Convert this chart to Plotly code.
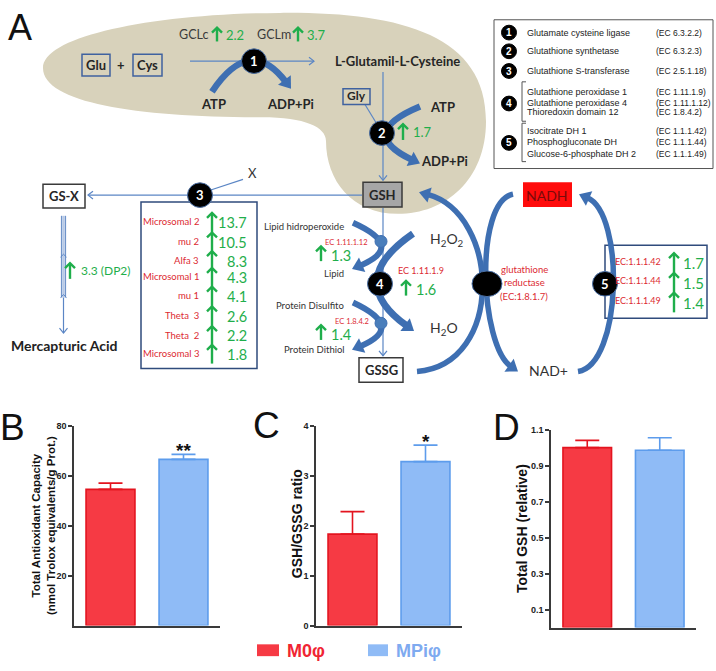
import math
import plotly.graph_objects as go

# ---------------- data ----------------
groups = ["M0φ", "MPiφ"]
tac_mean = [54.5, 66.5]
tac_sem = [2.5, 2.0]
ratio_mean = [1.83, 3.28]
ratio_sem = [0.45, 0.33]
gsh_mean = [1.0, 0.985]
gsh_sem = [0.04, 0.07]
sig_marks = ["", "**", "", "*", "", ""]
tac_ticks = [20, 40, 60, 80]
ratio_ticks = [0, 1, 2, 3, 4]
gsh_ticks = [0.1, 0.3, 0.5, 0.7, 0.9, 1.1]

gcl_names = ["GCLc", "GCLm"]
gcl_fold = [2.2, 3.7]
gss_fold = 1.7
gst_names = ["Microsomal 2", "mu 2", "Alfa 3", "Microsomal 1", "mu 1", "Theta  3", "Theta  2", "Microsomal 3"]
gst_fold = [13.7, 10.5, 8.3, 4.3, 4.1, 2.6, 2.2, 1.8]
dp2_fold = 3.3
gpx_ec = ["EC 1.11.1.12", "EC 1.11.1.9", "EC 1.8.4.2"]
gpx_fold = [1.3, 1.6, 1.4]
nadh_ec = ["EC:1.1.1.42", "EC:1.1.1.44", "EC:1.1.1.49"]
nadh_fold = [1.7, 1.5, 1.4]
enz_num = [1, 2, 3, 4, 4, 4, 5, 5, 5]
enz_names = ["Glutamate cysteine ligase", "Glutathione synthetase", "Glutathione S-transferase",
             "Glutathione peroxidase 1", "Glutathione peroxidase 4", "Thioredoxin domain 12",
             "Isocitrate DH 1", "Phosphogluconate DH", "Glucose-6-phosphate DH 2"]
enz_ec = ["(EC 6.3.2.2)", "(EC 6.3.2.3)", "(EC 2.5.1.18)", "(EC 1.11.1.9)", "(EC 1.11.1.12)",
          "(EC 1.8.4.2)", "(EC 1.1.1.42)", "(EC 1.1.1.44)", "(EC 1.1.1.49)"]

# ---------------- styles ----------------
W, H = 716, 671
RED_F, RED_L = "#f63a44", "#e3141f"
BLU_F, BLU_L = "#8fbbf6", "#5d9cec"
AXC = "#3a3a3a"
BLUE_T = "#5b86c5"
BLUE_K = "#3e6fb2"
BOXB = "#3f62a0"
GREEN = "#1fae4b"
RED = "#dc2a32"
DARK = "#262626"
F_D = "Lato"
F_A = "Liberation Sans"


def fx(p):
    return p / W


def fy(p):
    return 1 - p / H


fig = go.Figure()

# ---------------- bar panels ----------------
fills = [RED_F, BLU_F]
edges = [RED_L, BLU_L]
panels = [("x", "y", tac_mean, tac_sem), ("x2", "y2", ratio_mean, ratio_sem), ("x3", "y3", gsh_mean, gsh_sem)]
k = 0
for xa, ya, means, sems in panels:
    for i, g in enumerate(groups):
        fig.add_trace(go.Bar(
            x=[g], y=[means[i]], width=0.67, xaxis=xa, yaxis=ya,
            marker=dict(color=fills[i], line=dict(color=edges[i], width=1.6)),
            error_y=dict(type="data", symmetric=False, array=[sems[i]], arrayminus=[0],
                         color=edges[i], thickness=1.6, width=12),
            showlegend=False, hoverinfo="skip"))
        if sig_marks[k]:
            fig.add_annotation(x=g, y=means[i] + sems[i], xref=xa, yref=ya, text="<b>%s</b>" % sig_marks[k],
                               showarrow=False, yanchor="bottom", yshift=-9,
                               font=dict(size=19, color="#111", family=F_A))
        k += 1

fig.add_trace(go.Scatter(x=[], y=[], xaxis="x4", yaxis="y4", showlegend=False, hoverinfo="skip"))


def yax(dom, rng, ticks, fmt):
    return dict(domain=dom, range=rng, showline=True, linecolor=AXC, linewidth=1.5,
                ticks="outside", ticklen=4, tickwidth=1.5, tickcolor=AXC,
                tickvals=ticks, ticktext=["<b>%s</b>" % (fmt % t) for t in ticks],
                tickfont=dict(size=9, color="#222", family=F_A),
                showgrid=False, zeroline=False, fixedrange=True)


def xax(dom, anchor):
    return dict(domain=dom, anchor=anchor, range=[-0.5, 1.5], type="category",
                categoryorder="array", categoryarray=groups,
                showline=True, linecolor=AXC, linewidth=1.5, ticks="",
                showticklabels=False, showgrid=False, zeroline=False, fixedrange=True)


fig.update_layout(
    width=W, height=H, margin=dict(l=0, r=0, t=0, b=0),
    paper_bgcolor="white", plot_bgcolor="rgba(0,0,0,0)", barmode="overlay",
    xaxis=xax([fx(74), fx(220)], "y"),
    yaxis=dict(yax([fy(630), fy(427)], [0, 80], tac_ticks, "%d"), anchor="x"),
    xaxis2=xax([fx(316), fx(462)], "y2"),
    yaxis2=dict(yax([fy(630), fy(427)], [0, 4], ratio_ticks, "%d"), anchor="x2"),
    xaxis3=xax([fx(551), fx(696)], "y3"),
    yaxis3=dict(yax([fy(632), fy(431)], [0, 1.1], gsh_ticks, "%.1f"), anchor="x3"),
    xaxis4=dict(domain=[0, 1], range=[0, W], visible=False, anchor="y4", fixedrange=True),
    yaxis4=dict(domain=[0, 1], range=[H, 0], visible=False, anchor="x4", fixedrange=True),
)

# ---------------- diagram helpers ----------------
shapes = []
annots = []
R = dict(xref="x4", yref="y4")


def ln(x0, y0, x1, y1, color=BLUE_T, w=1.2):
    shapes.append(dict(type="line", x0=x0, y0=y0, x1=x1, y1=y1, line=dict(color=color, width=w), **R))


def pth(d, color=None, w=1.0, fill=None):
    s = dict(type="path", path=d, **R)
    s["line"] = dict(color=color, width=w) if color else dict(width=0)
    if fill:
        s["fillcolor"] = fill
    shapes.append(s)


def box(x0, y0, x1, y1, fill=None, lc=DARK, w=1.5):
    shapes.append(dict(type="rect", x0=x0, y0=y0, x1=x1, y1=y1,
                       fillcolor=fill or "rgba(0,0,0,0)",
                       line=dict(color=lc, width=w) if lc else dict(width=0), **R))


def circ(cx, cy, rx, ry=None, fill="black", lc="#4a6fa5", w=1):
    ry = ry or rx
    shapes.append(dict(type="circle", x0=cx - rx, x1=cx + rx, y0=cy - ry, y1=cy + ry,
                       fillcolor=fill, line=dict(color=lc, width=w), **R))


def txt(x, y, s, size=12, color=DARK, xa="center", fam=F_D, angle=0, ya="middle"):
    annots.append(dict(x=x, y=y, text=s, showarrow=False, xanchor=xa, yanchor=ya,
                       textangle=angle, font=dict(size=size, color=color, family=fam), **R))


def thin_arrow(x0, y0, x1, y1, color=BLUE_T, h=5, w=1.2):
    ln(x0, y0, x1, y1, color, w)
    L = math.hypot(x1 - x0, y1 - y0)
    ux, uy = (x1 - x0) / L, (y1 - y0) / L
    nx, ny = -uy, ux
    ax_, ay_ = x1 - ux * h + nx * h * 0.8, y1 - uy * h + ny * h * 0.8
    bx_, by_ = x1 - ux * h - nx * h * 0.8, y1 - uy * h - ny * h * 0.8
    pth("M%.1f,%.1f L%.1f,%.1f L%.1f,%.1f" % (ax_, ay_, x1, y1, bx_, by_), color, w)


def thick(pts, w=6.5, color=BLUE_K, hl=11, hw=8):
    pe, pc = pts[-1], pts[-2]
    dx, dy = pe[0] - pc[0], pe[1] - pc[1]
    L = math.hypot(dx, dy)
    ux, uy = dx / L, dy / L
    nx, ny = -uy, ux
    base = (pe[0] - ux * hl * 0.8, pe[1] - uy * hl * 0.8)
    p = pts[:-1] + [base]
    cmd = "Q" if len(pts) == 3 else "C"
    d = "M%.1f,%.1f %s" % (p[0][0], p[0][1], cmd) + " ".join("%.1f,%.1f" % q for q in p[1:])
    pth(d, color, w)
    b0 = (pe[0] - ux * hl, pe[1] - uy * hl)
    tri = "M%.1f,%.1f L%.1f,%.1f L%.1f,%.1f Z" % (pe[0], pe[1], b0[0] + nx * hw, b0[1] + ny * hw,
                                                  b0[0] - nx * hw, b0[1] - ny * hw)
    pth(tri, None, 0, color)


def chev(x, y, h=5, w=2.4, color=GREEN):
    pth("M%.1f,%.1f L%.1f,%.1f L%.1f,%.1f" % (x - h, y + h, x, y, x + h, y + h), color, w)


def up(x, ytop, ybot, w=2.4):
    ln(x, ybot, x, ytop + 1, GREEN, w)
    chev(x, ytop, w=w)


# ---------------- panel A ----------------
# beige region
pth("M43,64 C43,32 150,9 280,8 C400,7 486,30 486,118 C486,178 445,212 398,212 "
    "C352,212 326,178 326,138 C326,124 305,114 262,114 C140,114 43,100 43,64 Z", None, 0, "#d8d2bb")

# thin pathway lines
thin_arrow(190, 57, 314, 57)
thin_arrow(383, 68, 383, 178)
ln(365, 101, 377, 121)
thin_arrow(362, 193, 88, 193)
ln(210, 188, 243, 177)
thin_arrow(383, 206, 383, 356)
ln(61.5, 214, 61.5, 297, "#6f93c9", 1.2)
ln(65.5, 214, 65.5, 297, "#6f93c9", 1.2)
ln(63.5, 214, 63.5, 297, "#b7c9e6", 2.6)
thin_arrow(63.5, 297, 63.5, 333)
chev(63.5, 253, 3, 1, BLUE_T)
chev(63.5, 294, 3, 1, BLUE_T)

# boxes
box(82, 50, 110, 72, None, BOXB, 1.5)
box(133, 50, 162, 72, None, BOXB, 1.5)
box(343, 85, 370, 101, "rgba(0,0,0,0)", BOXB, 1.5)
box(363, 180, 402, 205, "#a6a6a6", "#3a3a3a", 1.5)
box(43, 182, 85, 206, "white", "#3a3a3a", 1.5)
box(359, 358, 403, 383, "white", "#3a3a3a", 1.5)
box(523, 180, 572, 205, "#ff0c0c", None)
box(141, 200, 257, 369, None, "#2f4b7c", 1.5)
box(605, 244, 707, 318, None, "#2f4b7c", 1.5)
box(494, 15, 713, 166, "white", "#555", 1)

# thick curved arrows
thick([(212, 88), (250, 30), (291, 85)])
thick([(420, 103), (356, 130), (420, 161)])
thick([(353, 221), (406, 245), (352, 268)], w=6)
thick([(413, 232), (344, 280), (414, 331)], w=7)
thick([(353, 302), (406, 327), (352, 350)], w=6)
thick([(417, 372), (505, 365), (500, 212), (419, 190)], w=5.5)
thick([(513, 192), (474, 200), (480, 345), (518, 372)], w=5.5)
thick([(578, 372), (622, 365), (625, 212), (579, 192)], w=5.5)

# circles
circ(381, 240, 6, fill="#4a7ebb", lc="#3e6fb2")
circ(381, 323, 6, fill="#4a7ebb", lc="#3e6fb2")
for cx, cy, n in [(254, 57, "1"), (382, 130, "2"), (200, 193, "3"), (380, 283, "4"), (605, 283, "5")]:
    circ(cx, cy, 12.5)
    txt(cx, cy, "<b>%s</b>" % n, 13, "white")
circ(487, 283, 15, 13)

# green arrows
up(217, 23, 37)
up(298, 23, 37)
up(403, 121, 137)
up(70, 262, 278)
gst_y = [220, 240, 259, 276, 295, 315, 335, 354]
ln(212, 364, 212, gst_y[0] - 8, GREEN, 2.4)
for yy in gst_y:
    chev(212, yy - 9)
gpx_pos = [(321, 253, 329), (406, 288, 414), (321, 333, 329)]
for (gx, gy, tx_) in gpx_pos:
    up(gx, gy - 8, gy + 7)
n5_y = [260, 280, 300]
ln(674, 312, 674, n5_y[0] - 8, GREEN, 2.4)
for yy in n5_y:
    chev(674, yy - 8)

# texts: synthesis
txt(96, 61, "<b>Glu</b>", 13)
txt(121, 61, "<b>+</b>", 13)
txt(147, 61, "<b>Cys</b>", 13)
gcl_x = [(177, 224), (255, 305)]
for (nx_, vx_), nm, fv in zip(gcl_x, gcl_names, gcl_fold):
    txt(nx_, 30, nm, 12.5, "#3a3a3a", "left")
    txt(vx_, 30, "%.1f" % fv, 13, GREEN, "left")
txt(213, 101, "<b>ATP</b>", 13)
txt(290, 101, "<b>ADP+Pi</b>", 13)
txt(397, 57, "<b>L-Glutamil-L-Cysteine</b>", 13)
txt(356, 92, "<b>Gly</b>", 12)
txt(442, 104, "<b>ATP</b>", 13)
txt(411, 129, "%.1f" % gss_fold, 13, GREEN, "left")
txt(444, 158, "<b>ADP+Pi</b>", 13)
txt(382, 193, "<b>GSH</b>", 13)
txt(64, 194, "<b>GS-X</b>", 13)
txt(252, 171, "X", 13, "#333")
txt(79, 270, "%.1f (DP2)" % dp2_fold, 12, GREEN, "left")
txt(64, 346, "<b>Mercapturic Acid</b>", 14, "#222")
for yy, nm, fv in zip(gst_y, gst_names, gst_fold):
    txt(201, yy, nm, 9.5, RED, "right")
    txt(249, yy + 1, "%.1f" % fv, 14.5, GREEN, "right")

# texts: peroxidase
txt(346, 225, "Lipid hidroperoxide", 9.5, "#333", "right")
txt(346, 273, "Lipid", 9.5, "#333", "right")
txt(346, 305, "Protein Disulfito", 9.5, "#333", "right")
txt(347, 350, "Protein Dithiol", 9.5, "#333", "right")
gpx_ec_pos = [(323, 241), (396, 270), (333, 321)]
for (ex, ey), ec, (gx, gy, tx_), fv in zip(gpx_ec_pos, gpx_ec, gpx_pos, gpx_fold):
    txt(ex, ey, ec, 7.5 if ex != 396 else 9, RED, "left")
    txt(tx_, gy + 1, "%.1f" % fv, 14.5, GREEN, "left")
txt(428, 238, "H<sub>2</sub>O<sub>2</sub>", 14, "#333", "left")
txt(428, 328, "H<sub>2</sub>O", 14, "#333", "left")
txt(381, 371, "<b>GSSG</b>", 13)

# texts: reductase / NADH
txt(524, 269, "glutathione", 9.5, RED)
txt(524, 282, "reductase", 9.5, RED)
txt(524, 296, "(EC:1.8.1.7)", 9.5, RED)
txt(547, 193, "NADH", 14, "#7a0a0a")
txt(548, 371, "NAD+", 14, "#333")
for yy, ec, fv in zip(n5_y, nadh_ec, nadh_fold):
    txt(663, yy, ec, 9, RED, "right")
    txt(681, yy + 2, "%.1f" % fv, 15, GREEN, "left")

# legend of enzymes
enz_y = [28, 47, 67, 88, 99, 109, 128, 139, 151]
num_y = {1: 28, 2: 47, 3: 67, 4: 100, 5: 140}
for n, yy in num_y.items():
    circ(509, yy, 7.5, lc="black")
    txt(509, yy, "<b>%d</b>" % n, 10, "white", fam=F_A)
pth("M526,78 L522,78 L522,118 L526,118", "#555", 1)
pth("M526,120 L522,120 L522,159 L526,159", "#555", 1)
for yy, nm, ec in zip(enz_y, enz_names, enz_ec):
    txt(525, yy, nm, 9, "#222", "left", F_A)
    txt(654, yy, ec, 8.5, "#222", "left", F_A)

# ---------------- panel letters, axis titles, legend ----------------
txt(20, 0, "A", 36, "#111", fam=F_A, ya="top")
txt(12, 429, "B", 37, "#111", fam=F_A)
txt(266, 427, "C", 37, "#111", fam=F_A)
txt(506, 429, "D", 37, "#111", fam=F_A)
txt(43, 529, "<b>Total Antioxidant Capacity<br>(nmol Trolox equivalents/g Prot.)</b>", 11.5, "#111", fam=F_A, angle=-90)
txt(297, 527, "<b>GSH/GSSG ratio</b>", 14, "#111", fam=F_A, angle=-90)
txt(522, 532, "<b>Total GSH (relative)</b>", 14, "#111", fam=F_A, angle=-90)

box(257, 649, 279, 661, RED_F, None)
box(368, 649, 388, 661, BLU_F, None)
txt(285, 656, "<b>%s</b>" % groups[0], 18, "#f02533", "left", F_A)
txt(394, 656, "<b>%s</b>" % groups[1], 18, "#7eaaf0", "left", F_A)

for a in annots:
    fig.add_annotation(**a)
fig.update_layout(shapes=shapes)

fig.write_html("out.html", config={"responsive": False, "displayModeBar": False},
               post_script="document.body.style.margin='0px';document.body.style.overflow='hidden';")
